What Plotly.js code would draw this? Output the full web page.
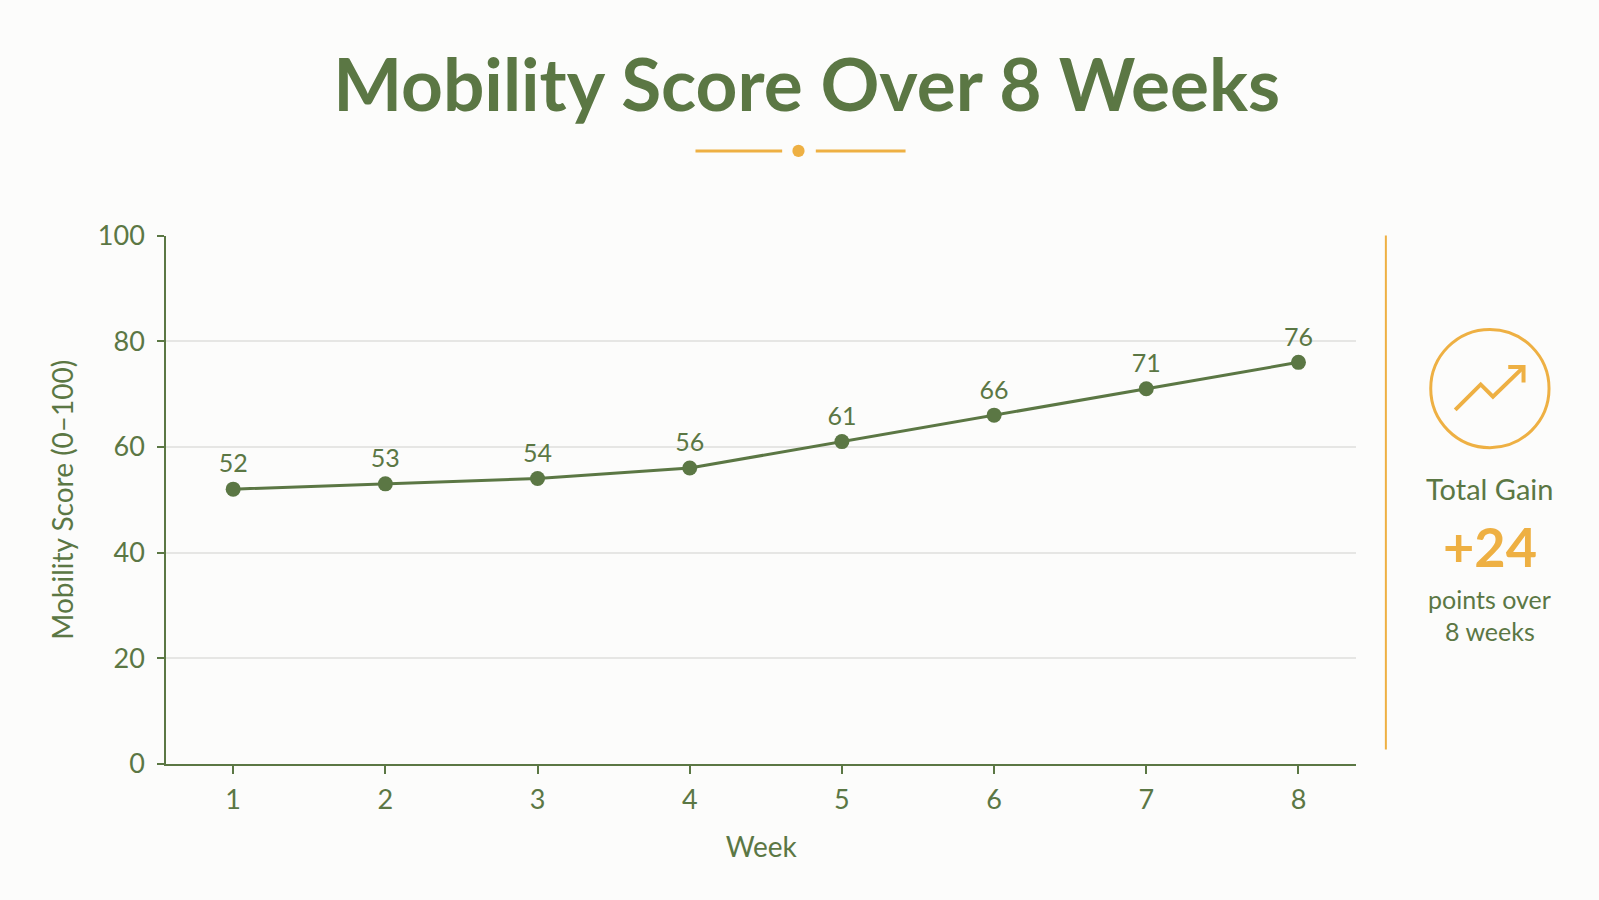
<!DOCTYPE html>
<html>
<head>
<meta charset="utf-8">
<script src="https://cdn.plot.ly/plotly-3.0.1.min.js"></script>
<style>
  html, body { margin: 0; padding: 0; background: #fcfcfb; }
  #chart { width: 1599px; height: 900px; }
</style>
</head>
<body>
<div id="chart"></div>
<script>
// Weekly mobility scores
var weeks = [1, 2, 3, 4, 5, 6, 7, 8];
var scores = [52, 53, 54, 56, 61, 66, 71, 76];
var yTicks = [0, 20, 40, 60, 80, 100];

var green = '#5b7744';
var gold = '#eeb043';
var W = 1599, H = 900;
// layout positions measured on a 1568-wide view of the reference
var DW = 1568, DH = 900 * 1568 / 1599;
function px(x) { return x / DW; }
function py(y) { return 1 - y / DH; }

var trace = {
  type: 'scatter',
  mode: 'lines+markers+text',
  x: weeks,
  y: scores,
  text: scores.map(String),
  textposition: 'top center',
  textfont: { family: 'Lato, sans-serif', size: 25, color: green },
  line: { color: green, width: 3 },
  marker: { color: green, size: 15 },
  hoverinfo: 'x+y',
  cliponaxis: false
};

var gain = scores[scores.length - 1] - scores[0];

// Trend-arrow icon path (paper coords)
var arrowPath = 'M ' + px(1427) + ' ' + py(402) + ' L ' + px(1452) + ' ' + py(377) +
  ' L ' + px(1464) + ' ' + py(389) + ' L ' + px(1494) + ' ' + py(360);
var headPath = 'M ' + px(1479) + ' ' + py(360) + ' L ' + px(1494) + ' ' + py(360) +
  ' L ' + px(1494) + ' ' + py(375);

Plotly.newPlot('chart', [trace], {
  width: W,
  height: H,
  paper_bgcolor: '#fcfcfb',
  plot_bgcolor: '#fcfcfb',
  margin: { l: 0, r: 0, t: 0, b: 0 },
  showlegend: false,
  font: { family: 'Lato, sans-serif', color: green },
  title: {
    text: '<b>Mobility Score Over 8 Weeks</b>',
    font: { family: 'Lato, sans-serif', size: 73, color: green },
    x: px(791), xanchor: 'center',
    y: py(84), yanchor: 'middle'
  },
  xaxis: {
    domain: [px(163), px(1330)],
    range: [0.56, 8.38],
    tickvals: weeks,
    ticks: 'outside', ticklen: 8, tickwidth: 2, tickcolor: green,
    ticklabelstandoff: 3,
    showline: true, linecolor: green, linewidth: 2,
    showgrid: false, zeroline: false,
    tickfont: { size: 27, color: green },
    title: { text: 'Week', font: { size: 28, color: green }, standoff: 23 }
  },
  yaxis: {
    domain: [py(749), py(231)],
    range: [0, 100],
    tickvals: yTicks,
    ticks: 'outside', ticklen: 7, tickwidth: 2, tickcolor: green,
    ticklabelstandoff: 7,
    showline: true, linecolor: green, linewidth: 2,
    showgrid: true, gridcolor: '#e6e6e4', gridwidth: 1.5,
    zeroline: false,
    tickfont: { size: 27, color: green },
    title: { text: 'Mobility Score (0–100)', font: { size: 28, color: green }, standoff: 16 }
  },
  shapes: [
    // title ornament
    { type: 'line', xref: 'paper', yref: 'paper', x0: px(682), x1: px(767), y0: py(148), y1: py(148),
      line: { color: gold, width: 3 } },
    { type: 'circle', xref: 'paper', yref: 'paper', x0: px(777), x1: px(789), y0: py(154), y1: py(142),
      fillcolor: gold, line: { color: gold, width: 0 } },
    { type: 'line', xref: 'paper', yref: 'paper', x0: px(800), x1: px(888), y0: py(148), y1: py(148),
      line: { color: gold, width: 3 } },
    // divider
    { type: 'line', xref: 'paper', yref: 'paper', x0: px(1359), x1: px(1359), y0: py(231), y1: py(735),
      line: { color: gold, width: 2 } },
    // icon
    { type: 'circle', xref: 'paper', yref: 'paper', x0: px(1403), x1: px(1519), y0: py(439), y1: py(323),
      line: { color: gold, width: 3 } },
    { type: 'path', xref: 'paper', yref: 'paper', path: arrowPath, line: { color: gold, width: 4 } },
    { type: 'path', xref: 'paper', yref: 'paper', path: headPath, line: { color: gold, width: 4 } }
  ],
  annotations: [
    { xref: 'paper', yref: 'paper', x: px(1461), y: py(479), text: 'Total Gain', showarrow: false,
      font: { size: 29, color: green }, xanchor: 'center', yanchor: 'middle' },
    { xref: 'paper', yref: 'paper', x: px(1461), y: py(536), text: '<b>+' + gain + '</b>', showarrow: false,
      font: { size: 54, color: gold }, xanchor: 'center', yanchor: 'middle' },
    { xref: 'paper', yref: 'paper', x: px(1461), y: py(587), text: 'points over', showarrow: false,
      font: { size: 25, color: green }, xanchor: 'center', yanchor: 'middle' },
    { xref: 'paper', yref: 'paper', x: px(1461), y: py(619), text: '8 weeks', showarrow: false,
      font: { size: 25, color: green }, xanchor: 'center', yanchor: 'middle' }
  ]
}, { displayModeBar: false });
</script>
</body>
</html>
